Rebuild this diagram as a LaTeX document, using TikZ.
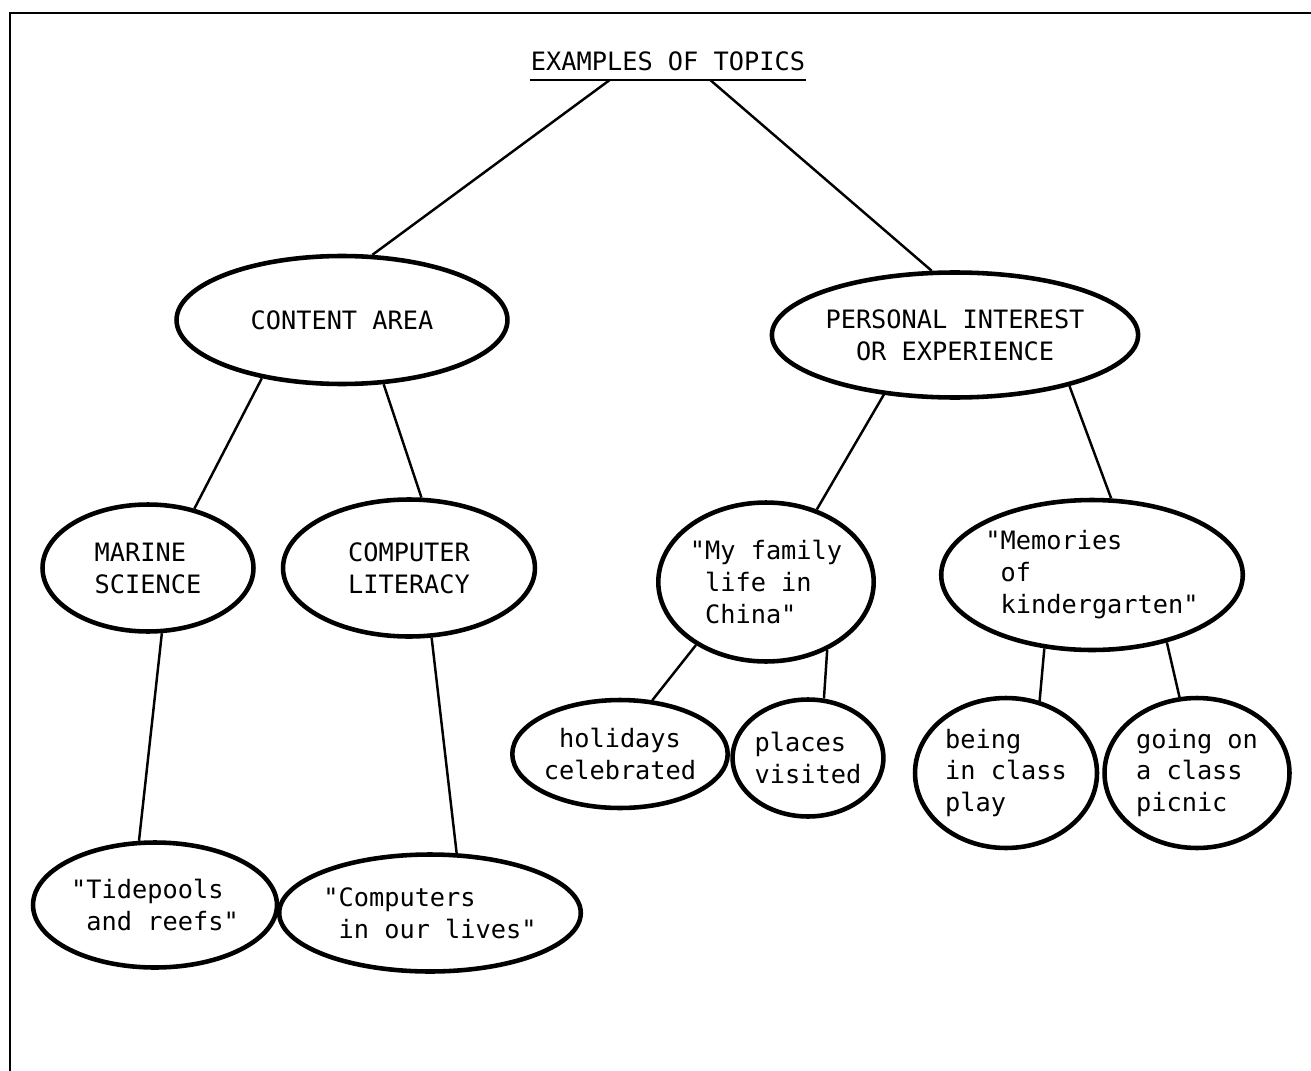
\documentclass[tikz,border=0pt]{standalone}
\usepackage{fontspec}
\newfontfamily\typewriter{DejaVu Sans Mono}
\usepackage{tikz}
\usetikzlibrary{shapes.geometric}

\begin{document}
\begin{tikzpicture}[x=0.02cm,y=-0.02cm,line width=1.4pt,
  topic node/.style={ellipse,draw,line width=2.6pt,inner sep=0pt,
    font=\typewriter\fontsize{14.4pt}{18.2pt}\selectfont},
  title node/.style={inner xsep=0pt,inner ysep=0.16cm,
    font=\typewriter\fontsize{14.4pt}{18.2pt}\selectfont},
  frame line/.style={line width=1.7pt}]

  \useasboundingbox (0,0) rectangle (1311,1071);
  \draw[frame line] (10,1071) -- (10,13) -- (1311,13);

  \node[title node] (title) at (668,61) {EXAMPLES OF TOPICS};
  \draw (title.south west) -- (title.south east);

  \node[topic node,minimum width=6.62cm,minimum height=2.56cm] (content) at (342,320) {CONTENT AREA};
  \node[topic node,align=center,minimum width=7.1cm,minimum height=2.5cm] (personal) at (955,335) {PERSONAL INTEREST\\OR EXPERIENCE};

  \node[topic node,align=left,minimum width=4.22cm,minimum height=2.54cm] (marine) at (148,568) {MARINE\\SCIENCE};
  \node[topic node,align=left,minimum width=5.04cm,minimum height=2.74cm] (computer) at (409,568) {COMPUTER\\LITERACY};
  \node[topic node,align=left,minimum width=4.3cm,minimum height=3.18cm] (family) at (766,582) {"My family\\\phantom{"}life in\\\phantom{"}China"};
  \node[topic node,align=left,minimum width=5.38cm,minimum height=3.0cm] (memories) at (1092,575) {"Memories\\\phantom{"}of\\\phantom{"}kindergarten"};

  \node[topic node,align=center,minimum width=4.3cm,minimum height=2.16cm] (holidays) at (620,754) {holidays\\celebrated};
  \node[topic node,align=left,minimum width=2.64cm,minimum height=2.34cm] (places) at (808,758) {places\\visited};
  \node[topic node,align=left,minimum width=3.64cm,minimum height=3.0cm] (being) at (1006,773) {being\\in class\\play};
  \node[topic node,align=left,minimum width=3.7cm,minimum height=3.0cm] (going) at (1197,773) {going on\\a class\\picnic};

  \node[topic node,align=left,minimum width=4.88cm,minimum height=2.5cm] (tidepools) at (155,905) {"Tidepools\\\phantom{"}and reefs"};
  \node[topic node,align=left,minimum width=5.8cm,minimum height=2.34cm] (computers) at (430,913) {"Computers\\\phantom{"}in our lives"};

  \path ([xshift=-1.16cm]title.south) edge (content.65);
  \path ([xshift=0.84cm]title.south) edge (personal.110);
  \path (content.216) edge (marine.52);
  \path (content.303) edge (computer.80);
  \path (personal.220) edge (family.55);
  \path (personal.336) edge (memories.76);
  \path (marine.282) edge (tidepools.104);
  \path (computer.288) edge (computers.66);
  \path (family.222) edge (holidays.59);
  \path (family.312) edge (places.75);
  \path (memories.237) edge (being.65);
  \path (memories.318) edge (going.103);
\end{tikzpicture}
\end{document}
